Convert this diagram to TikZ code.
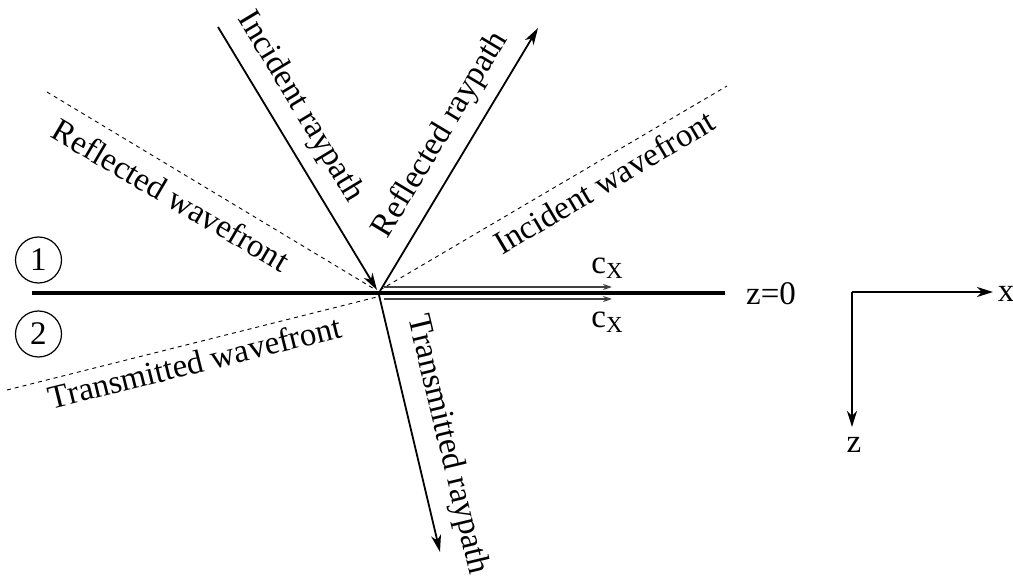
\documentclass[tikz,border=0pt]{standalone}
\usepackage{fontspec}
\setmainfont{Liberation Serif}
\usetikzlibrary{arrows.meta}
\begin{document}
\begin{tikzpicture}[x=1pt,y=-1pt,
  lbl/.style={font=\fontsize{33}{40}\selectfont, inner sep=0pt},
  ray/.style={line width=1.8pt, -{Stealth[length=17pt,width=10pt,inset=5pt]}},
  front/.style={line width=0.9pt, dash pattern=on 4pt off 4pt},
  vel/.style={line width=1.4pt, black!75, -{Stealth[length=9pt,width=6pt]}},
  axis/.style={line width=2.2pt, -{Stealth[length=16pt,width=10pt,inset=5pt]}},
  medium/.style={draw, circle, line width=1.2pt, minimum size=46pt, inner sep=0pt, font=\fontsize{33}{40}\selectfont}
]
\useasboundingbox (0,0) rectangle (1013,577);
% key points
\coordinate (O) at (378,293);
\coordinate (il) at (32,293);
\coordinate (ir) at (725,293);
\coordinate (Is) at (218,27);
\coordinate (Ie) at (377,290);
\coordinate (Rs) at (380,291);
\coordinate (Re) at (538,28);
\coordinate (Ts) at (379,295);
\coordinate (Te) at (440,552);
\coordinate (RWs) at (47,92);
\coordinate (RWe) at (376,290);
\coordinate (IWs) at (380,290);
\coordinate (IWe) at (727,86);
\coordinate (TWs) at (7,390);
\coordinate (TWe) at (377,297);
\coordinate (C1s) at (384,287);
\coordinate (C1e) at (612,287);
\coordinate (C2s) at (384,299);
\coordinate (C2e) at (612,299);
\coordinate (ax) at (852,292);
\coordinate (axX) at (993,292);
\coordinate (axZ) at (852,427);

% wavefronts
\draw[front] (RWs) -- (RWe);
\draw[front] (IWs) -- (IWe);
\draw[front] (TWs) -- (TWe);

% interface
\draw[line width=3.5pt] (il) -- (ir);

% horizontal velocity arrows
\draw[vel] (C1s) -- (C1e);
\draw[vel] (C2s) -- (C2e);

% rays
\draw[ray] (Is) -- (Ie);
\draw[ray] (Rs) -- (Re);
\draw[ray] (Ts) -- (Te);

% axes
\draw[axis] (ax) -- (axX);
\draw[axis] (ax) -- (axZ);

% labels
\node[lbl, rotate=-59] (lIR) at (300,107) {Incident raypath};
\node[lbl, rotate=59] (lRR) at (441,135) {Reflected raypath};
\node[lbl, rotate=-76.5] (lTR) at (447,445) {Transmitted raypath};
\node[lbl, rotate=-30.4] (lRW) at (171,195) {Reflected wavefront};
\node[lbl, rotate=30.6] (lIW) at (604,182) {Incident wavefront};
\node[lbl, rotate=13.9] (lTW) at (195,362) {Transmitted wavefront};

\node[lbl] (cx1) at (607,268) {c\raisebox{-5pt}{\fontsize{23}{26}\selectfont X}};
\node[lbl] (cx2) at (607,322) {c\raisebox{-5pt}{\fontsize{23}{26}\selectfont X}};
\node[lbl] (z0) at (771,294) {z=0};
\node[lbl] (lx) at (1006,294) {x};
\node[lbl] (lz) at (854,445) {z};

\node[medium] (m1) at (38.5,260) {1};
\node[medium] (m2) at (38.5,334) {2};
\end{tikzpicture}
\end{document}
